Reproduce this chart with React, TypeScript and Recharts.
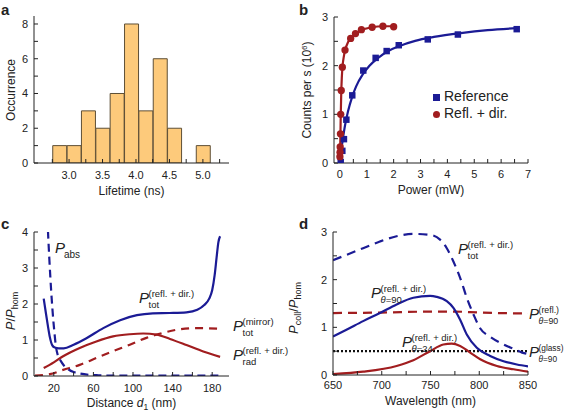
import React from "react";
import { Bar, ComposedChart, Legend, Line, Scatter, XAxis, YAxis, ZAxis } from "recharts";

const FONT = '"Liberation Sans", Arial, Helvetica, sans-serif';
const INK = "#222";
const BLUE = "#1b1b95";
const RED = "#a11d1f";
const LW = 2.2;

// a: lifetime histogram
const lifetimeBins = [2.863, 3.078, 3.292, 3.507, 3.721, 3.936, 4.15, 4.365, 4.579, 4.794, 5.008];
const occurrence = [1, 1, 3, 2, 4, 8, 3, 6, 2, 0, 1];
const aXTicks = [2.75, 3, 3.25, 3.5, 3.75, 4, 4.25, 4.5, 4.75, 5, 5.25];
const aYTicks = [0, 1, 2, 3, 4, 5, 6, 7, 8];

// b: saturation
const refPower = [0.03, 0.09, 0.15, 0.24, 0.46, 0.87, 1.33, 1.74, 2.19, 3.27, 4.39, 6.58];
const refCounts = [0.02, 0.25, 0.49, 0.89, 1.39, 1.9, 2.16, 2.3, 2.42, 2.54, 2.64, 2.75];
const mirPower = [0, 0.005, 0.01, 0.02, 0.03, 0.05, 0.09, 0.19, 0.4, 0.58, 0.8, 1.2, 1.6, 2.0];
const mirCounts = [0.13, 0.22, 0.33, 0.6, 1.0, 1.49, 1.97, 2.32, 2.56, 2.66, 2.74, 2.79, 2.81, 2.8];
const refFitP = [0, 0.02, 0.05, 0.1, 0.15, 0.2, 0.3, 0.45, 0.6, 0.85, 1.1, 1.4, 1.8, 2.2, 2.8, 3.5, 4.5, 5.5, 6.6];
const refFitC = [0, 0.1, 0.25, 0.46, 0.64, 0.8, 1.06, 1.35, 1.57, 1.82, 2.0, 2.15, 2.3, 2.4, 2.51, 2.59, 2.67, 2.73, 2.77];
const mirFitP = [0, 0.01, 0.02, 0.03, 0.05, 0.07, 0.1, 0.15, 0.2, 0.3, 0.4, 0.6, 0.8, 1.2, 1.6, 2.0];
const mirFitC = [0, 0.3, 0.6, 0.95, 1.45, 1.75, 2.0, 2.2, 2.33, 2.48, 2.56, 2.66, 2.73, 2.79, 2.81, 2.81];
const bXTicks = [0, 0.5, 1, 1.5, 2, 2.5, 3, 3.5, 4, 4.5, 5, 5.5, 6, 6.5, 7];
const bYTicks = [0, 0.5, 1, 1.5, 2, 2.5, 3];

// c: power vs distance
const totD = [9.8, 12, 14, 16, 18.5, 21, 25, 30, 40, 53, 70, 87, 104, 120, 137, 154, 165, 172, 177, 180, 182.5, 184.5, 186.3, 188];
const totP = [2.15, 1.75, 1.4, 1.08, 0.85, 0.79, 0.77, 0.77, 0.87, 1.05, 1.33, 1.55, 1.69, 1.74, 1.75, 1.77, 1.84, 1.97, 2.15, 2.38, 2.8, 3.3, 3.72, 3.88];
const absD = [13.5, 14.5, 15.5, 16.5, 17.5, 18.5, 19.5, 20.5, 22, 24, 27, 30, 35, 40, 46, 55, 65, 80, 100, 130, 160, 190];
const absP = [4.4, 3.8, 3.25, 2.75, 2.3, 1.9, 1.55, 1.25, 0.85, 0.58, 0.42, 0.3, 0.18, 0.11, 0.07, 0.035, 0.02, 0.01, 0.01, 0.01, 0.01, 0.01];
const radD = [9.8, 20, 29.4, 46.2, 63, 79.9, 96.8, 110.3, 123.8, 137.4, 154, 171, 188];
const radP = [0.22, 0.38, 0.55, 0.78, 0.96, 1.1, 1.16, 1.18, 1.15, 1.03, 0.86, 0.68, 0.53];
const mirrorD = [1, 15.9, 29.4, 46.2, 63, 79.9, 96.8, 113.6, 130.5, 147.4, 164.3, 188];
const mirrorP = [0.01, 0.05, 0.17, 0.31, 0.5, 0.69, 0.87, 1.06, 1.2, 1.3, 1.33, 1.31];
const cXTicks = [20, 40, 60, 80, 100, 120, 140, 160, 180];
const cYTicks = [0, 0.5, 1, 1.5, 2, 2.5, 3, 3.5, 4];

// d: collected power vs wavelength
const totLam = [650, 663.8, 680.9, 698.1, 715.2, 732.4, 749.5, 759.8, 766.7, 773.5, 780.4, 787.2, 794.1, 800.9, 811.2, 825, 835, 844, 850];
const totColl = [2.41, 2.52, 2.66, 2.8, 2.91, 2.96, 2.94, 2.84, 2.66, 2.38, 2.04, 1.62, 1.27, 0.98, 0.8, 0.64, 0.55, 0.47, 0.44];
const d90Lam = [650, 663.8, 680.9, 698.1, 715.2, 732.4, 749.5, 756.3, 766.7, 773.5, 780.4, 787.2, 797.5, 811.2, 824.9, 838.6, 850];
const d90Coll = [0.81, 0.95, 1.13, 1.3, 1.48, 1.62, 1.66, 1.64, 1.55, 1.41, 1.16, 0.85, 0.57, 0.4, 0.29, 0.22, 0.18];
const r90Lam = [650, 700, 750, 775, 800, 850];
const r90Coll = [1.3, 1.31, 1.33, 1.33, 1.31, 1.29];
const glassLam = [650, 850];
const glassColl = [0.5, 0.5];
const d24Lam = [650, 680.9, 715.2, 732.4, 749.5, 763.2, 771.8, 780.4, 790.7, 801, 818.1, 835.2, 850];
const d24Coll = [0.02, 0.07, 0.19, 0.31, 0.5, 0.64, 0.66, 0.61, 0.47, 0.33, 0.19, 0.12, 0.07];
const dXTicks = [650, 675, 700, 725, 750, 775, 800, 825, 850];
const dYTicks = [0, 0.5, 1, 1.5, 2, 2.5, 3];

const pts = (xs: number[], ys: number[]) => xs.map((x, i) => ({ x, y: ys[i] }));

const every = (step: number, digits = 0, origin = 0) => (v: number) => {
  const k = (v - origin) / step;
  return Math.abs(k - Math.round(k)) < 1e-6 ? v.toFixed(digits) : "";
};

const tickStyle = { fill: INK, fontSize: 11 };
const line = { stroke: INK };

function frame(xDomain: number[], xTicks: number[], yDomain: number[], yTicks: number[], xFmt: (v: number) => string, yFmt: (v: number) => string, yWidth: number, xHeight: number, xMargin: number) {
  return [
    <XAxis key="xb" dataKey="x" type="number" domain={xDomain} ticks={xTicks} tickFormatter={xFmt} interval={0} allowDataOverflow
      height={xHeight} tickSize={-4} tickMargin={xMargin} axisLine={line} tickLine={line} tick={tickStyle} />,
    <XAxis key="xt" xAxisId="top" orientation="top" type="number" domain={xDomain} ticks={xTicks} interval={0} allowDataOverflow
      height={0} mirror tickSize={4} tick={false} axisLine={line} tickLine={line} />,
    <YAxis key="yl" type="number" domain={yDomain} ticks={yTicks} tickFormatter={yFmt} interval={0} allowDataOverflow
      width={yWidth} tickSize={-4} tickMargin={10} axisLine={line} tickLine={line} tick={tickStyle} />,
    <YAxis key="yr" yAxisId="r" orientation="right" type="number" domain={yDomain} ticks={yTicks} interval={0} allowDataOverflow
      width={0} mirror tickSize={4} tick={false} axisLine={line} tickLine={line} />,
  ];
}

function LifetimePanel() {
  const data = lifetimeBins.map((x, i) => ({ x, count: occurrence[i] }));
  return (
    <ComposedChart width={283} height={207} data={data} margin={{ top: 16, right: 54, bottom: 14, left: 0 }} barCategoryGap={0} barGap={0}>
      {frame([2.476, 5.39], aXTicks, [0, 8.46], aYTicks, every(0.5, 1), every(2), 34, 30, 12)}
      <Bar dataKey="count" fill="#fdca7b" stroke="#5e4f36" strokeWidth={1} isAnimationActive={false} />
    </ComposedChart>
  );
}

function SaturationPanel() {
  return (
    <ComposedChart width={283} height={207} margin={{ top: 17, right: 38, bottom: 14, left: 0 }}>
      {frame([-0.22, 7], bXTicks, [0, 3], bYTicks, every(1), every(1), 51, 30, 11)}
      <ZAxis range={[42, 42]} />
      <Line data={pts(refFitP, refFitC)} dataKey="y" type="monotone" stroke={BLUE} strokeWidth={LW} dot={false} legendType="none" isAnimationActive={false} />
      <Line data={pts(mirFitP, mirFitC)} dataKey="y" type="monotone" stroke={RED} strokeWidth={LW} dot={false} legendType="none" isAnimationActive={false} />
      <Scatter name="Reference" data={pts(refPower, refCounts)} dataKey="y" shape="square" fill={BLUE} legendType="square" isAnimationActive={false} />
      <Scatter name="Refl. + dir." data={pts(mirPower, mirCounts)} dataKey="y" shape="circle" fill={RED} legendType="circle" isAnimationActive={false} />
      <Legend layout="vertical" align="center" verticalAlign="middle" iconSize={7}
        wrapperStyle={{ left: 150, top: 88, fontSize: 14, lineHeight: "17px" }}
        formatter={(value) => <span style={{ color: INK }}>{value}</span>} />
    </ComposedChart>
  );
}

function DistancePanel() {
  return (
    <ComposedChart width={283} height={208} margin={{ top: 25, right: 54, bottom: 7, left: 0 }}>
      {frame([0, 197], cXTicks, [0, 4], cYTicks, every(40, 0, 20), every(1), 34, 32, 12)}
      <Line data={pts(mirrorD, mirrorP)} dataKey="y" type="monotone" stroke={RED} strokeWidth={LW} strokeDasharray="8 6" dot={false} isAnimationActive={false} />
      <Line data={pts(radD, radP)} dataKey="y" type="monotone" stroke={RED} strokeWidth={LW} dot={false} isAnimationActive={false} />
      <Line data={pts(absD, absP)} dataKey="y" type="monotone" stroke={BLUE} strokeWidth={LW} strokeDasharray="8 5" dot={false} isAnimationActive={false} />
      <Line data={pts(totD, totP)} dataKey="y" type="monotone" stroke={BLUE} strokeWidth={LW} dot={false} isAnimationActive={false} />
    </ComposedChart>
  );
}

function WavelengthPanel() {
  return (
    <ComposedChart width={283} height={208} margin={{ top: 25, right: 38, bottom: 8, left: 0 }}>
      {frame([650, 850], dXTicks, [0, 3], dYTicks, every(50), every(1), 50, 32, 10)}
      <Line data={pts(glassLam, glassColl)} dataKey="y" type="linear" stroke="#111" strokeWidth={LW} strokeDasharray="2 2" dot={false} isAnimationActive={false} />
      <Line data={pts(r90Lam, r90Coll)} dataKey="y" type="monotone" stroke={RED} strokeWidth={LW} strokeDasharray="9 6" dot={false} isAnimationActive={false} />
      <Line data={pts(d24Lam, d24Coll)} dataKey="y" type="monotone" stroke={RED} strokeWidth={LW} dot={false} isAnimationActive={false} />
      <Line data={pts(d90Lam, d90Coll)} dataKey="y" type="monotone" stroke={BLUE} strokeWidth={LW} dot={false} isAnimationActive={false} />
      <Line data={pts(totLam, totColl)} dataKey="y" type="monotone" stroke={BLUE} strokeWidth={LW} strokeDasharray="9 6" dot={false} isAnimationActive={false} />
    </ComposedChart>
  );
}

function PLabel({ x, y, sup, sub, theta, size = 9.5 }: { x: number; y: number; sup: string; sub?: string; theta?: string; size?: number }) {
  return (
    <g>
      <text x={x} y={y} fontSize={15} fontStyle="italic">P</text>
      <text x={x + 9.5} y={y - 6.5} fontSize={size}>{sup}</text>
      <text x={x + 9.5} y={y + 5} fontSize={size}>
        {theta ? (<><tspan fontStyle="italic">θ</tspan>{"=" + theta}</>) : sub}
      </text>
    </g>
  );
}

function Annotations() {
  return (
    <svg width={566} height={415} style={{ position: "absolute", left: 0, top: 0, pointerEvents: "none" }} fill={INK}>
      <g fontWeight="bold" fontSize={15}>
        <text x={1} y={15}>a</text>
        <text x={299} y={15}>b</text>
        <text x={1} y={229}>c</text>
        <text x={299} y={229}>d</text>
      </g>
      <g fontSize={12} textAnchor="middle">
        <text transform="translate(14.5,90) rotate(-90)">Occurrence</text>
        <text x={131.5} y={195}>Lifetime (ns)</text>
        <text transform="translate(311,90) rotate(-90)">
          Counts per s (10<tspan fontSize={8} dy={-4}>6</tspan><tspan dy={4}>)</tspan>
        </text>
        <text x={431} y={194}>Power (mW)</text>
        <text transform="translate(15,311) rotate(-90)" fontSize={13}>
          <tspan fontStyle="italic">P</tspan>/<tspan fontStyle="italic">P</tspan><tspan fontSize={9} dy={3}>hom</tspan>
        </text>
        <text x={131.5} y={407}>
          Distance <tspan fontStyle="italic">d</tspan><tspan fontSize={8.5} dy={3}>1</tspan><tspan dy={-3}> (nm)</tspan>
        </text>
        <text transform="translate(298,308) rotate(-90)" fontSize={13}>
          <tspan fontStyle="italic">P</tspan><tspan fontSize={9} dy={3}>coll</tspan><tspan dy={-3}>/</tspan><tspan fontStyle="italic">P</tspan><tspan fontSize={9} dy={3}>hom</tspan>
        </text>
        <text x={430.5} y={405}>Wavelength (nm)</text>
      </g>
      <text x={55} y={253} fontSize={15} fontStyle="italic">P</text>
      <text x={64} y={258} fontSize={10}>abs</text>
      <PLabel x={139} y={303} sup="(refl. + dir.)" sub="tot" />
      <PLabel x={233} y={331} sup="(mirror)" sub="tot" />
      <PLabel x={233} y={360} sup="(refl. + dir.)" sub="rad" />
      <PLabel x={458} y={254} sup="(refl. + dir.)" sub="tot" />
      <PLabel x={371} y={298} sup="(refl. + dir.)" theta="90" />
      <PLabel x={529} y={319} sup="(refl.)" theta="90" size={8.8} />
      <PLabel x={402} y={347} sup="(refl. + dir.)" theta="24" />
      <PLabel x={529} y={357} sup="(glass)" theta="90" size={8.3} />
    </svg>
  );
}

export default function App() {
  return (
    <div style={{ position: "absolute", left: 0, top: 0, width: 566, height: 415, background: "#fff", fontFamily: FONT, color: INK, overflow: "hidden" }}>
      <div style={{ position: "absolute", left: 0, top: 0 }}><LifetimePanel /></div>
      <div style={{ position: "absolute", left: 283, top: 0 }}><SaturationPanel /></div>
      <div style={{ position: "absolute", left: 0, top: 207 }}><DistancePanel /></div>
      <div style={{ position: "absolute", left: 283, top: 207 }}><WavelengthPanel /></div>
      <Annotations />
    </div>
  );
}
